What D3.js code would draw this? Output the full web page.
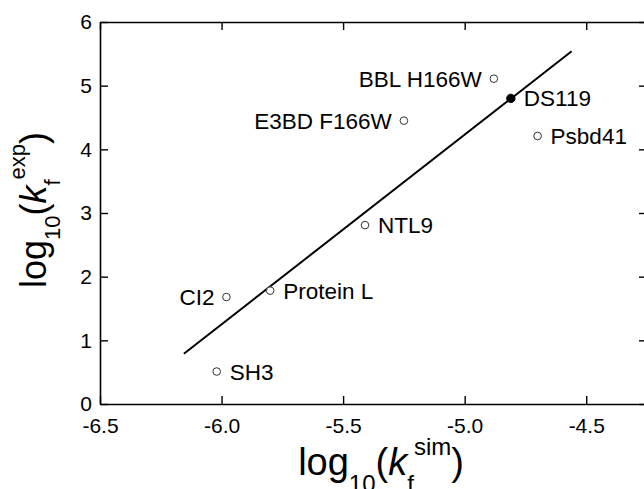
<!DOCTYPE html>
<html>
<head>
<meta charset="utf-8">
<script src="https://cdn.jsdelivr.net/npm/d3@7"></script>
<style>
  html, body { margin: 0; padding: 0; background: #fff; }
  svg { display: block; font-family: "Liberation Sans", Arial, sans-serif; }
</style>
</head>
<body>
<svg id="chart" width="644" height="489"></svg>
<script>
// Folding rates: simulated vs experimental (log10)
const proteins = ["SH3", "CI2", "Protein L", "NTL9", "E3BD F166W", "BBL H166W", "DS119", "Psbd41"];
const logKSim  = [-6.02, -5.98, -5.80, -5.41, -5.25, -4.88, -4.81, -4.70];
const logKExp  = [0.51, 1.68, 1.78, 2.81, 4.45, 5.11, 4.80, 4.21];
const filled   = [false, false, false, false, false, false, true, false];
const labelSide = ["right", "left", "right", "right", "left", "left", "right", "right"];

// Fitted line endpoints
const fitX = [-6.155, -4.56];
const fitY = [0.79, 5.54];

const xTicks = [-6.5, -6.0, -5.5, -5.0, -4.5];
const yTicks = [0, 1, 2, 3, 4, 5, 6];

const svg = d3.select("#chart");
const plotLeft = 100, plotRight = 647, plotTop = 22, plotBottom = 404;

const x = d3.scaleLinear().domain([-6.5, -4.25]).range([plotLeft, plotRight]);
const y = d3.scaleLinear().domain([0, 6]).range([plotBottom, plotTop]);

const tickLen = 8;
const fontTick = 21;

function styleAxis(g) {
  g.select(".domain").attr("stroke", "#000").attr("stroke-width", 1.6);
  g.selectAll(".tick line").attr("stroke", "#000").attr("stroke-width", 1.4);
  g.selectAll(".tick text").attr("fill", "#000").attr("font-size", fontTick)
    .attr("font-family", "Liberation Sans, Arial, sans-serif");
}

// Bottom axis (labels), ticks pointing inward; plain hyphen for the minus sign
svg.append("g")
  .attr("transform", `translate(0,${plotBottom})`)
  .call(d3.axisBottom(x).tickValues(xTicks).tickFormat(d => d.toFixed(1))
        .tickSizeInner(-tickLen).tickSizeOuter(0))
  .call(styleAxis)
  .call(g => g.selectAll(".tick text").attr("dy", null).attr("y", 29));

// Top axis, no labels
svg.append("g")
  .attr("transform", `translate(0,${plotTop})`)
  .call(d3.axisTop(x).tickValues(xTicks).tickFormat("")
        .tickSizeInner(-tickLen).tickSizeOuter(0))
  .call(styleAxis);

// Left axis (labels)
svg.append("g")
  .attr("transform", `translate(${plotLeft},0)`)
  .call(d3.axisLeft(y).tickValues(yTicks).tickFormat(d => String(d))
        .tickSizeInner(-tickLen).tickSizeOuter(0))
  .call(styleAxis)
  .call(g => g.selectAll(".tick text").attr("x", -8));

// Right axis, no labels
svg.append("g")
  .attr("transform", `translate(${plotRight},0)`)
  .call(d3.axisRight(y).tickValues(yTicks).tickFormat("")
        .tickSizeInner(-tickLen).tickSizeOuter(0))
  .call(styleAxis);

// Regression line
svg.append("line")
  .attr("x1", x(fitX[0])).attr("y1", y(fitY[0]))
  .attr("x2", x(fitX[1])).attr("y2", y(fitY[1]))
  .attr("stroke", "#000").attr("stroke-width", 2);

// Points
const pts = proteins.map((name, i) => ({
  name, sx: logKSim[i], ey: logKExp[i], filled: filled[i], side: labelSide[i]
}));

svg.append("g").selectAll("circle")
  .data(pts).join("circle")
  .attr("cx", d => x(d.sx)).attr("cy", d => y(d.ey))
  .attr("r", d => d.filled ? 4.2 : 3.8)
  .attr("fill", d => d.filled ? "#000" : "#fff")
  .attr("stroke", d => d.filled ? "#000" : "#333")
  .attr("stroke-width", 1);

// Point labels
svg.append("g").selectAll("text")
  .data(pts).join("text")
  .attr("x", d => x(d.sx) + (d.side === "right" ? 13 : -12))
  .attr("y", d => y(d.ey) + 8)
  .attr("text-anchor", d => d.side === "right" ? "start" : "end")
  .attr("font-size", 22.5)
  .attr("fill", "#000")
  .text(d => d.name);

// Axis titles
function title(g, big, small, subDy, supDy, sup) {
  const t = g.append("text").attr("text-anchor", "middle").attr("fill", "#000");
  t.append("tspan").attr("font-size", big).text("log");
  t.append("tspan").attr("font-size", small).attr("dy", subDy).text("10");
  t.append("tspan").attr("font-size", big).attr("dy", -subDy).text("(");
  t.append("tspan").attr("font-size", big).attr("font-style", "italic").text("k");
  t.append("tspan").attr("font-size", small).attr("dy", subDy).text("f");
  t.append("tspan").attr("font-size", small).attr("dy", -subDy + supDy).text(sup);
  t.append("tspan").attr("font-size", big).attr("dy", -supDy).text(")");
  return t;
}

title(svg.append("g").attr("transform", "translate(381,474.5)"), 38, 24, 17, -19.5, "sim");
title(svg.append("g").attr("transform", "translate(46,210) rotate(-90)"), 36, 22, 14, -21, "exp");
</script>
</body>
</html>
